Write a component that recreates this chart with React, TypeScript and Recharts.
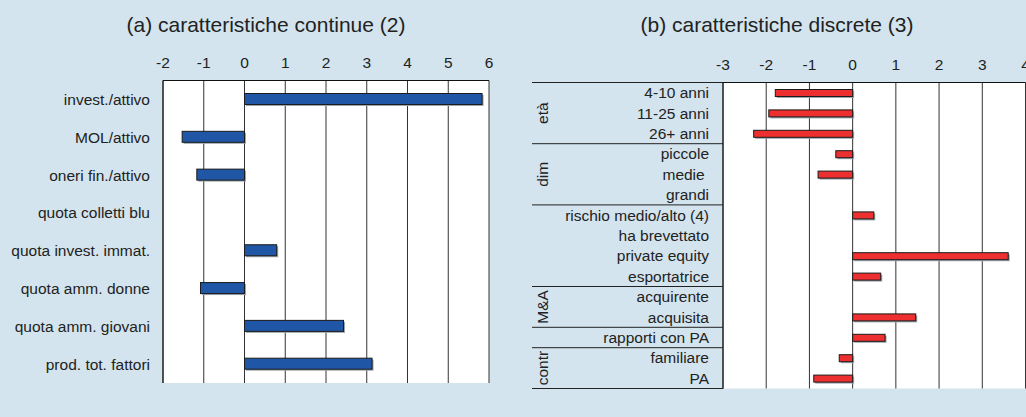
import React from 'react';
import { BarChart, Bar, XAxis, YAxis, CartesianGrid } from 'recharts';

// ---- Panel (a): continuous characteristics ----
const contCategories = [
  'invest./attivo',
  'MOL/attivo',
  'oneri fin./attivo',
  'quota colletti blu',
  'quota invest. immat.',
  'quota amm. donne',
  'quota amm. giovani',
  'prod. tot. fattori',
];
const contValues = [5.83, -1.53, -1.17, 0, 0.79, -1.08, 2.43, 3.13];
const contTicks = [-2, -1, 0, 1, 2, 3, 4, 5, 6];

// ---- Panel (b): discrete characteristics ----
const discCategories = [
  '4-10 anni',
  '11-25 anni',
  '26+ anni',
  'piccole',
  'medie\u00a0',
  'grandi',
  'rischio medio/alto (4)',
  'ha brevettato',
  'private equity',
  'esportatrice',
  'acquirente',
  'acquisita',
  'rapporti con PA',
  'familiare',
  'PA',
];
const discValues = [-1.79, -1.94, -2.29, -0.39, -0.8, 0, 0.49, 0, 3.6, 0.65, 0, 1.46, 0.75, -0.31, -0.9];
const discTicks = [-3, -2, -1, 0, 1, 2, 3, 4];
const discGroupNames = ['età', 'dim', '', 'M&A', '', 'contr'];
const discGroupStarts = [0, 3, 6, 10, 12, 13];
const discGroupSizes = [3, 3, 4, 2, 1, 2];

const titleA = '(a) caratteristiche continue (2)';
const titleB = '(b) caratteristiche discrete (3)';

const contData = contCategories.map((name, i) => ({ name, value: contValues[i] }));
const discData = discCategories.map((name, i) => ({ name, value: discValues[i] }));

const FONT = '"Liberation Sans", Arial, Helvetica, sans-serif';
const TEXT = '#222222';
const BG = '#d3e4ee';
const FS = 15.5;

// layout (panel b)
const B_W = 520;
const B_H = 417;
const B_TOP = 82.5;
const B_BOTTOM = 28.5;
const B_YW = 203;
const B_ROW = (B_H - B_TOP - B_BOTTOM) / discCategories.length;
const B_LINE_X = 12;
const B_GROUP_X = 23;

const makeShape = (fill: string) => (props: any) => {
  const { x, y, width, height } = props;
  if (!width || Math.abs(width) < 0.5) return <g />;
  const x0 = width < 0 ? x + width : x;
  const w = Math.abs(width);
  return (
    <g>
      <rect x={x0 + 1.5} y={y + 1.5} width={w} height={height} fill="#9aa5ad" />
      <rect x={x0} y={y} width={w} height={height} fill={fill} stroke="#1b1b1b" strokeWidth={1} />
    </g>
  );
};

const DiscTick = (props: any) => {
  const { x, y, payload, index } = props;
  const gi = discGroupStarts.indexOf(index);
  const half = B_ROW / 2;
  const last = index === discCategories.length - 1;
  let groupLabel = null;
  if (gi >= 0 && discGroupNames[gi]) {
    const cy = y - half + (discGroupSizes[gi] * B_ROW) / 2;
    groupLabel = (
      <text
        x={B_GROUP_X}
        y={cy}
        transform={`rotate(-90 ${B_GROUP_X} ${cy})`}
        textAnchor="middle"
        dominantBaseline="central"
        fill={TEXT}
        fontSize={FS}
        fontFamily={FONT}
      >
        {discGroupNames[gi]}
      </text>
    );
  }
  return (
    <g>
      <text x={x} y={y} dy="0.355em" textAnchor="end" fill={TEXT} fontSize={FS} fontFamily={FONT}>
        {payload.value}
      </text>
      {gi >= 0 && <line x1={B_LINE_X} x2={B_YW} y1={y - half} y2={y - half} stroke="#222" strokeWidth={1} />}
      {last && <line x1={B_LINE_X} x2={B_YW} y1={y + half} y2={y + half} stroke="#222" strokeWidth={1} />}
      {groupLabel}
    </g>
  );
};

const titleStyle: React.CSSProperties = {
  position: 'absolute',
  width: 400,
  top: 15,
  textAlign: 'center',
  fontSize: 21,
  lineHeight: '20px',
  color: TEXT,
  whiteSpace: 'nowrap',
};

export default function App() {
  return (
    <div
      style={{
        position: 'absolute',
        left: 0,
        top: 0,
        width: 1026,
        height: 417,
        overflow: 'hidden',
        background: BG,
        fontFamily: FONT,
      }}
    >
      <div style={{ ...titleStyle, left: 66 }}>{titleA}</div>
      <div style={{ ...titleStyle, left: 577 }}>{titleB}</div>

      <div style={{ position: 'absolute', left: 0, top: 0 }}>
        <BarChart
          width={510}
          height={417}
          data={contData}
          layout="vertical"
          margin={{ top: 0, right: 21, bottom: 34, left: 0 }}
        >
          <CartesianGrid horizontal={false} stroke="#333" fill="#ffffff" />
          <XAxis
            type="number"
            orientation="top"
            domain={[-2, 6]}
            ticks={contTicks}
            height={80.5}
            tickLine={false}
            tickSize={0}
            tickMargin={13}
            axisLine={{ stroke: '#111' }}
            tick={{ fill: TEXT, fontSize: FS, fontFamily: FONT }}
            interval={0}
          />
          <XAxis
            xAxisId="bottom"
            type="number"
            orientation="bottom"
            domain={[-2, 6]}
            ticks={contTicks}
            height={0}
            tick={false}
            tickLine={false}
            axisLine={{ stroke: '#111' }}
          />
          <YAxis
            type="category"
            dataKey="name"
            width={163}
            tickLine={false}
            tickSize={0}
            tickMargin={13}
            axisLine={{ stroke: '#111' }}
            tick={{ fill: TEXT, fontSize: FS, fontFamily: FONT }}
            interval={0}
          />
          <Bar dataKey="value" barSize={11} fill="#1f56a5" shape={makeShape('#1f56a5')} isAnimationActive={false} />
        </BarChart>
      </div>

      <div style={{ position: 'absolute', left: 520, top: 0 }}>
        <BarChart
          width={B_W}
          height={B_H}
          data={discData}
          layout="vertical"
          margin={{ top: 0, right: 14.5, bottom: B_BOTTOM, left: 0 }}
        >
          <CartesianGrid horizontal={false} stroke="#333" fill="#ffffff" />
          <XAxis
            type="number"
            orientation="top"
            domain={[-3, 4]}
            ticks={discTicks}
            height={B_TOP}
            tickLine={false}
            tickSize={0}
            tickMargin={13}
            axisLine={{ stroke: '#111' }}
            tick={{ fill: TEXT, fontSize: FS, fontFamily: FONT }}
            interval={0}
          />
          <XAxis
            xAxisId="bottom"
            type="number"
            orientation="bottom"
            domain={[-3, 4]}
            ticks={discTicks}
            height={0}
            tick={false}
            tickLine={false}
            axisLine={{ stroke: '#111' }}
          />
          <YAxis
            type="category"
            dataKey="name"
            width={B_YW}
            tickLine={false}
            tickSize={0}
            tickMargin={14}
            axisLine={{ stroke: '#111' }}
            tick={<DiscTick />}
            interval={0}
          />
          <Bar dataKey="value" barSize={7} fill="#ee2f2f" shape={makeShape('#ee2f2f')} isAnimationActive={false} />
        </BarChart>
      </div>
    </div>
  );
}
